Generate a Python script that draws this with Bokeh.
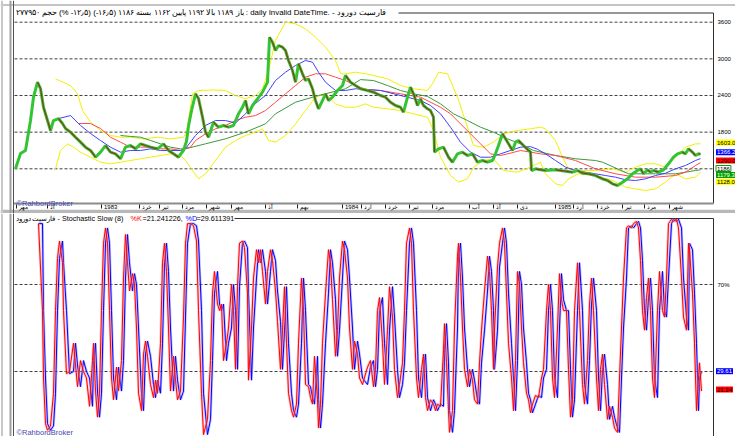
from bokeh.plotting import figure
from bokeh.layouts import column
from bokeh.models import Range1d, Label, Span
from bokeh.embed import file_html
from bokeh.resources import INLINE

# ---------------- data ----------------
# trading-day index (1 day = 1 px of the reference), daily close
CLOSE_DAY = [1, 6, 11, 16, 19, 23, 26, 29, 33, 36,
             39, 44, 48, 51, 56, 61, 66, 71, 76, 81,
             86, 91, 96, 101, 106, 111, 116, 121, 126, 131,
             136, 143, 149, 154, 159, 164, 169, 172, 174, 177,
             181, 184, 188, 191, 194, 199, 204, 209, 214, 219,
             224, 228, 231, 234, 238, 243, 248, 253, 255, 258,
             261, 264, 268, 271, 274, 278, 281, 284, 288, 291,
             294, 298, 301, 304, 308, 311, 314, 318, 323, 328,
             331, 336, 341, 346, 353, 359, 366, 371, 376, 381,
             386, 389, 393, 396, 399, 403, 406, 409, 413, 416,
             419, 420, 424, 429, 434, 438, 443, 448, 453, 458,
             463, 468, 473, 478, 481, 484, 488, 491, 494, 498,
             501, 504, 509, 514, 516, 517, 521, 526, 531, 541,
             551, 558, 563, 568, 574, 581, 588, 593, 598, 603,
             608, 613, 618, 623, 626, 629, 633, 636, 639, 644,
             649, 654, 659, 663, 668, 671, 674, 678, 681, 684,
             686]
CLOSE = [1200, 1450, 1500, 1990, 2372, 2618, 2514, 2208, 1990, 1827,
         1990, 2023, 1941, 1860, 1800, 1717, 1636, 1554, 1500, 1390,
         1472, 1581, 1472, 1445, 1364, 1554, 1581, 1527, 1609, 1581,
         1554, 1527, 1609, 1500, 1445, 1390, 1500, 1650, 1900, 2150,
         2428, 2350, 2045, 1800, 1717, 1963, 1881, 1909, 1881, 1909,
         2100, 2208, 2318, 2100, 2236, 2346, 2454, 2618, 3354, 3272,
         3137, 3218, 3191, 3137, 2973, 2809, 2618, 2919, 2755, 2645,
         2673, 2510, 2318, 2182, 2318, 2428, 2318, 2372, 2482, 2563,
         2727, 2618, 2563, 2510, 2482, 2454, 2400, 2372, 2290, 2236,
         2208, 2127, 2372, 2536, 2428, 2236, 2346, 2236, 2182, 2154,
         2045, 1472, 1527, 1554, 1390, 1308, 1445, 1472, 1418, 1445,
         1308, 1336, 1308, 1336, 1445, 1581, 1773, 1691, 1609, 1500,
         1636, 1663, 1581, 1500, 1480, 1172, 1200, 1183, 1172, 1183,
         1161, 1145, 1172, 1128, 1118, 1090, 1036, 1008, 954, 927,
         981, 1036, 1118, 1172, 1200, 1118, 1183, 1145, 1172, 1145,
         1183, 1282, 1390, 1445, 1472, 1445, 1527, 1472, 1418, 1445,
         1440]

BLUE_DAY = [43, 56, 66, 76, 86, 96, 106, 116, 126, 136,
            146, 156, 166, 171, 181, 191, 201, 211, 221, 231,
            241, 251, 261, 271, 281, 291, 298, 304, 311, 321,
            331, 341, 351, 366, 386, 406, 416, 426, 436, 446,
            456, 466, 476, 486, 496, 506, 516, 523, 531, 541,
            551, 561, 571, 581, 591, 601, 611, 621, 631, 641,
            651, 661, 671, 681, 686]
BLUE_MA = [2018, 2071, 1909, 1778, 1663, 1554, 1472, 1500, 1500, 1527,
           1500, 1500, 1500, 1530, 1745, 1909, 1990, 1990, 1950, 2100,
           2270, 2400, 2645, 2782, 2891, 2973, 2945, 2782, 2618, 2482,
           2482, 2510, 2500, 2482, 2400, 2318, 2236, 2100, 1881, 1636,
           1472, 1390, 1390, 1445, 1500, 1554, 1563, 1520, 1445, 1336,
           1227, 1172, 1145, 1118, 1090, 1063, 1020, 1008, 1036, 1090,
           1128, 1200, 1254, 1336, 1367]

RED_DAY = [64, 76, 86, 96, 106, 116, 126, 136, 146, 156,
           166, 171, 176, 181, 191, 201, 211, 221, 231, 241,
           251, 261, 271, 281, 291, 301, 311, 321, 331, 341,
           351, 366, 386, 406, 426, 436, 446, 456, 466, 476,
           486, 496, 506, 516, 526, 541, 561, 581, 601, 621,
           641, 661, 671, 681, 686]
RED_MA = [1941, 1941, 1860, 1717, 1636, 1554, 1554, 1554, 1527, 1527,
          1500, 1540, 1554, 1663, 1773, 1855, 1909, 1990, 2045, 2071,
          2154, 2290, 2428, 2563, 2700, 2755, 2755, 2700, 2645, 2563,
          2500, 2482, 2428, 2372, 2208, 2100, 1936, 1773, 1609, 1445,
          1418, 1456, 1500, 1472, 1445, 1418, 1336, 1200, 1118, 1063,
          1063, 1090, 1145, 1254, 1300]

GREEN_DAY = [106, 116, 126, 136, 146, 156, 166, 171, 191, 211,
             231, 251, 261, 281, 304, 331, 346, 359, 373, 386,
             399, 413, 426, 439, 453, 466, 479, 493, 506, 519,
             541, 561, 581, 588, 614, 641, 661, 681, 686]
GREEN_MA = [1745, 1730, 1717, 1663, 1609, 1554, 1527, 1527, 1609, 1691,
            1800, 1936, 2100, 2290, 2400, 2510, 2660, 2645, 2563, 2482,
            2428, 2385, 2263, 2100, 1990, 1881, 1800, 1690, 1609, 1500,
            1418, 1364, 1336, 1308, 1118, 1118, 1118, 1172, 1183]

UPPER_DAY = [41, 56, 63, 68, 76, 86, 96, 106, 116, 129,
             143, 156, 169, 172, 178, 184, 198, 211, 221, 231,
             241, 248, 254, 261, 271, 281, 291, 301, 311, 321,
             326, 331, 341, 351, 359, 373, 386, 399, 413, 418,
             424, 433, 443, 453, 459, 469, 479, 489, 503, 516,
             526, 531, 541, 548, 554, 564, 581, 598, 611, 621,
             631, 641, 651, 661, 671, 681, 686]
UPPER_BAND = [2673, 2563, 2428, 2154, 1963, 1827, 1745, 1717, 1717, 1690,
              1717, 1690, 1717, 1800, 2428, 2482, 2490, 2482, 2400, 2346,
              2400, 2510, 2809, 3300, 3600, 3573, 3491, 3354, 3191, 2973,
              2755, 2755, 2782, 2755, 2727, 2673, 2563, 2510, 2482, 2591,
              2782, 2755, 2372, 1881, 1581, 1554, 1636, 1773, 1827, 1855,
              1881, 1855, 1663, 1390, 1200, 1172, 1172, 1200, 1145, 1227,
              1282, 1282, 1227, 1390, 1554, 1609, 1609]

LOWER_DAY = [41, 46, 53, 59, 66, 76, 86, 96, 106, 116,
             126, 136, 146, 156, 166, 171, 178, 184, 191, 201,
             211, 221, 231, 241, 248, 254, 261, 271, 281, 291,
             301, 311, 321, 331, 341, 351, 359, 373, 386, 399,
             413, 419, 426, 436, 444, 453, 459, 469, 479, 489,
             503, 516, 526, 531, 541, 548, 554, 564, 581, 598,
             611, 621, 631, 641, 651, 661, 671, 681, 686]
LOWER_BAND = [1200, 1500, 1609, 1554, 1472, 1390, 1308, 1282, 1308, 1336,
              1364, 1390, 1418, 1445, 1418, 1336, 1172, 1036, 1118, 1336,
              1554, 1663, 1745, 1800, 1855, 1663, 1636, 1745, 1936, 2154,
              2372, 2428, 2263, 2208, 2208, 2263, 2208, 2182, 2154, 2100,
              2045, 1827, 1390, 1090, 981, 1036, 1227, 1336, 1364, 1172,
              1145, 1227, 1308, 1118, 954, 927, 1036, 1118, 1090, 1008,
              899, 872, 845, 872, 981, 1118, 1036, 1063, 1145]

STOCH_DAY = [24, 28, 29, 31, 33, 36, 39, 41, 43, 45,
             48, 49, 52, 55, 59, 61, 63, 66, 69, 72,
             75, 78, 79, 81, 83, 85, 87, 89, 91, 93,
             95, 97, 99, 102, 104, 107, 109, 111, 113, 115,
             118, 120, 122, 124, 127, 129, 131, 133, 136, 139,
             141, 143, 146, 148, 150, 152, 154, 156, 159, 161,
             163, 166, 169, 171, 173, 176, 179, 182, 184, 187,
             189, 193, 196, 198, 200, 203, 205, 207, 209, 212,
             214, 217, 219, 221, 223, 225, 228, 230, 233, 234,
             237, 239, 242, 244, 246, 248, 251, 253, 256, 258,
             261, 263, 266, 268, 270, 272, 274, 277, 279, 282,
             284, 287, 289, 291, 294, 296, 298, 300, 303, 304,
             306, 308, 311, 314, 316, 318, 321, 323, 325, 328,
             330, 333, 335, 338, 340, 343, 345, 348, 353, 356,
             359, 361, 363, 365, 368, 370, 373, 375, 378, 380,
             383, 385, 388, 390, 392, 395, 397, 399, 402, 404,
             407, 409, 411, 413, 416, 419, 421, 423, 426, 429,
             430, 432, 434, 435, 438, 440, 443, 444, 446, 448,
             450, 453, 455, 458, 460, 463, 465, 467, 470, 473,
             475, 477, 479, 480, 483, 485, 488, 490, 492, 494,
             497, 499, 501, 503, 505, 507, 509, 512, 514, 516,
             518, 521, 524, 527, 529, 532, 534, 536, 538, 540,
             543, 545, 547, 549, 552, 554, 556, 558, 560, 563,
             565, 568, 570, 573, 575, 577, 579, 582, 584, 586,
             588, 590, 593, 595, 598, 600, 603, 605, 607, 609,
             612, 614, 617, 619, 622, 624, 626, 628, 630, 632,
             634, 636, 638, 640, 643, 645, 648, 650, 652, 654,
             657, 659, 662, 664, 667, 669, 672, 674, 675, 678,
             680, 682, 684, 685, 687]
PCT_K = [98, 58, 27, 6, 3, 5, 20, 58, 82, 90,
         80, 58, 29, 30, 43, 33, 23, 35, 30, 27,
         14, 35, 43, 21, 9, 20, 58, 89, 96, 89,
         58, 27, 17, 32, 21, 35, 73, 93, 80, 67,
         75, 70, 50, 20, 12, 38, 44, 37, 24, 18,
         26, 20, 43, 80, 89, 76, 50, 21, 37, 26,
         17, 21, 55, 89, 98, 98, 97, 90, 58, 20,
         1, 8, 35, 66, 76, 61, 58, 61, 35, 43,
         50, 70, 58, 31, 69, 89, 90, 87, 66, 26,
         50, 73, 86, 80, 86, 76, 61, 76, 86, 81,
         67, 53, 31, 49, 69, 43, 20, 12, 9, 15,
         43, 73, 58, 24, 23, 18, 15, 37, 17, 4,
         15, 43, 66, 86, 80, 63, 37, 49, 73, 90,
         86, 73, 50, 31, 44, 38, 27, 24, 32, 35,
         23, 31, 58, 64, 43, 24, 49, 69, 55, 31,
         18, 24, 34, 58, 89, 96, 89, 58, 27, 18,
         31, 38, 18, 12, 17, 15, 12, 15, 14, 40,
         52, 34, 12, 2, 12, 50, 83, 89, 73, 50,
         31, 23, 31, 26, 17, 15, 34, 49, 67, 83,
         76, 58, 31, 49, 78, 89, 96, 89, 66, 43,
         27, 12, 35, 76, 70, 50, 34, 20, 17, 11,
         15, 19, 18, 27, 31, 58, 70, 58, 27, 18,
         50, 75, 63, 58, 58, 31, 9, 17, 58, 80,
         58, 24, 15, 35, 61, 73, 58, 27, 12, 31,
         38, 24, 8, 14, 9, 4, 2, 27, 50, 73,
         96, 97, 96, 98, 99, 96, 81, 58, 49, 64,
         73, 58, 27, 18, 58, 76, 58, 55, 73, 98,
         100, 99, 100, 96, 73, 55, 49, 89, 86, 66,
         43, 12, 27, 34, 21]
PCT_D = [98, 98, 58, 27, 6, 3, 5, 20, 58, 82,
         90, 80, 58, 29, 30, 43, 33, 23, 35, 30,
         27, 14, 35, 43, 21, 9, 20, 58, 89, 96,
         89, 58, 27, 17, 32, 21, 35, 73, 93, 80,
         67, 75, 70, 50, 20, 12, 38, 44, 37, 24,
         18, 26, 20, 43, 80, 89, 76, 50, 21, 37,
         26, 17, 21, 55, 89, 98, 98, 97, 90, 58,
         20, 1, 8, 35, 66, 76, 61, 58, 61, 35,
         43, 50, 70, 58, 31, 69, 89, 90, 87, 66,
         26, 50, 73, 86, 80, 86, 76, 61, 76, 86,
         81, 67, 53, 31, 49, 69, 43, 20, 12, 9,
         15, 43, 73, 58, 24, 23, 18, 15, 37, 17,
         4, 15, 43, 66, 86, 80, 63, 37, 49, 73,
         90, 86, 73, 50, 31, 44, 38, 27, 24, 32,
         35, 23, 31, 58, 64, 43, 24, 49, 69, 55,
         31, 18, 24, 34, 58, 89, 96, 89, 58, 27,
         18, 31, 38, 18, 12, 17, 15, 12, 15, 14,
         40, 52, 34, 12, 2, 12, 50, 83, 89, 73,
         50, 31, 23, 31, 26, 17, 15, 34, 49, 67,
         83, 76, 58, 31, 49, 78, 89, 96, 89, 66,
         43, 27, 12, 35, 76, 70, 50, 34, 20, 17,
         11, 15, 19, 18, 27, 31, 58, 70, 58, 27,
         18, 50, 75, 63, 58, 58, 31, 9, 17, 58,
         80, 58, 24, 15, 35, 61, 73, 58, 27, 12,
         31, 38, 24, 8, 14, 9, 4, 2, 27, 50,
         73, 96, 97, 96, 98, 99, 96, 81, 58, 49,
         64, 73, 58, 27, 18, 58, 76, 58, 55, 73,
         98, 100, 99, 100, 96, 73, 55, 49, 89, 86,
         66, 43, 12, 27, 30]

PRICE_LEVELS = [1200, 1800, 2400, 3000, 3600]
PRICE_LEVEL_LABELS = ["3600", "3000", "2400", "1800"]
STOCH_LEVELS = [30, 70]

DATE_TICK_DAY = [2, 33, 87, 125, 145, 168, 192, 217, 251, 283, 328, 347,
                 371, 395, 418, 455, 479, 503, 541, 559, 583, 608, 630, 655]
DATE_LABELS = ["مهر", "آذ", "1983", "خرد", "تیر", "مرد", "شهر", "مهر",
               "آذ", "بهم", "1984", "ارد", "خرد", "تیر", "مرد", "آب",
               "آذ", "دی", "1985", "ارد", "خرد", "تیر", "مرد", "شهر"]

LAST_VALUE_TEXT = ["1603.0", "1366.2", "1290.0", "1186", "1179.3", "1128.0"]
LAST_VALUE_BG = ["#ffff00", "#0000ff", "#ff0000", "#ffffff", "#00a000", "#ffff00"]
LAST_VALUE_FG = ["#000000", "#ffffff", "#200000", "#000000", "#ffffff", "#000000"]
LAST_VALUE_ROW = [142, 151.7, 160, 168, 174.6, 181.2]

TITLE_TOP = ("باز ۱۱۸۹ بالا ۱۱۹۲ پایین ۱۱۶۲ بسته ۱۱۸۶ (۱۶٫۵-) (۱۲٫۵- %) "
             "حجم ۲۷۷۹۵۰ : daily Invalid DateTime. - فارسیت دورود")
TITLE_STOCH = "فارسیت دورود - Stochastic Slow (8)"
K_TEXT = "=21.241226,"
D_TEXT = "=29.611391"

# ---------------- helpers: reference pixel -> data ----------------
def price_at(y_ref):
    return 1200 + (168.3 - y_ref) * 16.37

def stoch_at(y_ref):
    return 30 + (371.0 - y_ref) / 2.175

def day_at(x_ref):
    return x_ref - 14

FONT = "Liberation Sans"
x_range = Range1d(day_at(0), day_at(735))


def make_fig(h, y0, y1):
    p = figure(width=735, height=h, x_range=x_range, y_range=Range1d(y0, y1),
               output_backend="svg", toolbar_location=None,
               x_axis_location=None, y_axis_location=None, min_border=0)
    p.outline_line_color = None
    p.grid.grid_line_color = None
    p.background_fill_color = "white"
    p.border_fill_color = "white"
    return p


def add_label(p, x, y, text, size="6px", color="#000000", align="left", **kw):
    p.add_layout(Label(x=x, y=y, text=text, text_font=FONT, text_font_size=size,
                       text_color=color, text_align=align, text_baseline="middle", **kw))


# ================= price panel =================
p1 = make_fig(213, price_at(213), price_at(0))

# window edge band at the very top
p1.segment(x0=[day_at(0)], y0=[price_at(4.5)], x1=[day_at(735)], y1=[price_at(4.5)],
           line_color="#c4c4c4", line_width=2)

p1.segment(x0=[day_at(14)] * len(PRICE_LEVELS), y0=PRICE_LEVELS,
           x1=[day_at(713)] * len(PRICE_LEVELS), y1=PRICE_LEVELS,
           line_color="#404040", line_width=1, line_dash="3 2")

p1.line(UPPER_DAY, UPPER_BAND, line_color="#f0f000", line_width=1)
p1.line(LOWER_DAY, LOWER_BAND, line_color="#f0f000", line_width=1)
p1.line(GREEN_DAY, GREEN_MA, line_color="#3a9a3a", line_width=1)
p1.line(RED_DAY, RED_MA, line_color="#ff4a4a", line_width=1)
p1.line(BLUE_DAY, BLUE_MA, line_color="#4040ff", line_width=1)

p1.line(CLOSE_DAY, CLOSE, line_color="#33c433", line_width=3)
dn = [i for i in range(len(CLOSE) - 1) if CLOSE[i + 1] < CLOSE[i]]
p1.segment(x0=[CLOSE_DAY[i] for i in dn], y0=[CLOSE[i] for i in dn],
           x1=[CLOSE_DAY[i + 1] for i in dn], y1=[CLOSE[i + 1] for i in dn],
           line_color="#8a3a1c", line_width=1.2)

# frame pieces
p1.add_layout(Span(location=day_at(1.5), dimension="height", line_color="#c8c8c8", line_width=2))
p1.add_layout(Span(location=day_at(10), dimension="height", line_color="#a0a0a0", line_width=2))
p1.add_layout(Span(location=day_at(13), dimension="height", line_color="#505050", line_width=1))
p1.segment(x0=[day_at(398), day_at(713), day_at(13)],
           y0=[price_at(12.5), price_at(12.5), price_at(203)],
           x1=[day_at(713), day_at(713), day_at(713)],
           y1=[price_at(12.5), price_at(203), price_at(203)],
           line_color=["#303030", "#303030", "#8c8c8c"], line_width=[1, 1, 2])
p1.quad(left=[day_at(0)], right=[day_at(735)], bottom=[price_at(212.8)], top=[price_at(209.3)],
        fill_color="#b8b8b8", line_color=None)

# date axis
p1.segment(x0=DATE_TICK_DAY, y0=[price_at(204)] * len(DATE_TICK_DAY),
           x1=DATE_TICK_DAY, y1=[price_at(208)] * len(DATE_TICK_DAY),
           line_color="#202020", line_width=1)
for d, t in zip(DATE_TICK_DAY, DATE_LABELS):
    add_label(p1, d + 2.5, price_at(206.2), t, size="6px")

# right labels
for t in PRICE_LEVEL_LABELS:
    add_label(p1, day_at(717), float(t), t, size="6px")
for t, bg, fg, row in zip(LAST_VALUE_TEXT, LAST_VALUE_BG, LAST_VALUE_FG, LAST_VALUE_ROW):
    add_label(p1, day_at(715.5), price_at(row), t, size="6px", color=fg,
              background_fill_color=bg,
              border_line_color="#00a000" if bg == "#ffffff" else None,
              padding=1)

add_label(p1, day_at(15), price_at(11.5), TITLE_TOP, size="7.9px")
add_label(p1, day_at(16), price_at(202.5), "©RahbordBroker", size="7.5px", color="#4848b0")

# ================= stochastic panel =================
p2 = make_fig(223, stoch_at(436), stoch_at(213))

p2.segment(x0=[day_at(14)] * 2, y0=STOCH_LEVELS, x1=[day_at(713)] * 2, y1=STOCH_LEVELS,
           line_color="#404040", line_width=1, line_dash="3 2")

p2.line(STOCH_DAY, PCT_D, line_color="#8c8cff", line_width=2.6, line_alpha=0.55)
p2.line(STOCH_DAY, PCT_D, line_color="#0000ff", line_width=1)
p2.line(STOCH_DAY, PCT_K, line_color="#ff8c8c", line_width=2.6, line_alpha=0.5)
p2.line(STOCH_DAY, PCT_K, line_color="#ff0000", line_width=1)

p2.add_layout(Span(location=day_at(1.5), dimension="height", line_color="#c8c8c8", line_width=2))
p2.add_layout(Span(location=day_at(10), dimension="height", line_color="#a0a0a0", line_width=2))
p2.add_layout(Span(location=day_at(13), dimension="height", line_color="#505050", line_width=1))
p2.segment(x0=[day_at(234), day_at(713)], y0=[stoch_at(218), stoch_at(218)],
           x1=[day_at(713), day_at(713)], y1=[stoch_at(218), stoch_at(436)],
           line_color="#303030", line_width=1)

add_label(p2, day_at(15), stoch_at(218), TITLE_STOCH, size="7.2px")
add_label(p2, day_at(130), stoch_at(218), "%K", size="7.2px", color="#ff0000")
add_label(p2, day_at(142), stoch_at(218), K_TEXT, size="7.2px")
add_label(p2, day_at(185), stoch_at(218), "%D", size="7.2px", color="#0000ff")
add_label(p2, day_at(196), stoch_at(218), D_TEXT, size="7.2px")

add_label(p2, day_at(717), 70, "70%", size="6px")
add_label(p2, day_at(715.5), stoch_at(370.7), "29.61", size="6px", color="#ffffff",
          background_fill_color="#0000ff", padding=1)
add_label(p2, day_at(715.5), stoch_at(389), "21.24", size="6px", color="#200000",
          background_fill_color="#ff0000", padding=1)
add_label(p2, day_at(16), stoch_at(431.5), "©RahbordBroker", size="7.5px", color="#4848b0")

page = column(p1, p2, spacing=0)
open("out.html", "w").write(file_html(page, INLINE))
